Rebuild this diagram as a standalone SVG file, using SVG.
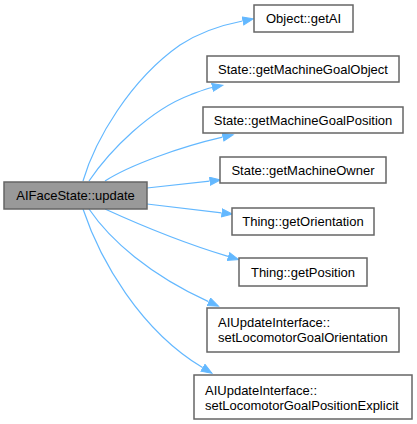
<svg xmlns="http://www.w3.org/2000/svg" width="417" height="424" viewBox="0 0 417 424">
<style>
.box{fill:#ffffff;stroke:#666666;stroke-width:1.5}
.main{fill:#999999;stroke:#666666;stroke-width:1.5}
text{font-family:"Liberation Sans",Arial,sans-serif;font-size:13px;fill:#000000}
.c{text-anchor:middle}
.edge{fill:none;stroke:#63b8ff;stroke-width:1.2;marker-end:url(#arr)}
</style>
<defs>
<marker id="arr" markerUnits="userSpaceOnUse" markerWidth="13" markerHeight="10" refX="0" refY="4.5" orient="auto">
<path d="M0.5,0.5 L11,4.5 L0.5,8.5 z" fill="#63b8ff" stroke="#63b8ff" stroke-width="1"/>
</marker>
</defs>
<rect width="417" height="424" fill="#ffffff"/>
<g id="edges">
<path class="edge" d="M83,181 C95,140 130,80 180,45 C200,32 222,25 242.5,21"/>
<path class="edge" d="M89,181 C110,150 150,110 190,95 C198,92 205,89 212,87.5"/>
<path class="edge" d="M105,181 C130,165 180,147 222.5,137.2"/>
<path class="edge" d="M147,188 L209.5,181.2"/>
<path class="edge" d="M147,204 L221.5,212.8"/>
<path class="edge" d="M105,209 C140,225 190,245 228,256.4"/>
<path class="edge" d="M89,209 C110,240 150,275 208.5,301.6"/>
<path class="edge" d="M83,209 C100,260 140,330 202.5,367.5"/>
</g>
<g id="node-main">
<rect class="main" x="4" y="182" width="143" height="27"/>
<text class="c" x="75.5" y="200">AIFaceState::update</text>
</g>
<g id="node-getAI">
<rect class="box" x="254" y="5" width="99" height="27"/>
<text class="c" x="303.5" y="23">Object::getAI</text>
</g>
<g id="node-getMachineGoalObject">
<rect class="box" x="207" y="56" width="192" height="26"/>
<text class="c" x="303" y="73.5">State::getMachineGoalObject</text>
</g>
<g id="node-getMachineGoalPosition">
<rect class="box" x="203" y="107" width="200" height="26"/>
<text class="c" x="303" y="124.5">State::getMachineGoalPosition</text>
</g>
<g id="node-getMachineOwner">
<rect class="box" x="220" y="157" width="166" height="26"/>
<text class="c" x="303" y="174.5">State::getMachineOwner</text>
</g>
<g id="node-getOrientation">
<rect class="box" x="232" y="208" width="142" height="27"/>
<text class="c" x="303" y="226">Thing::getOrientation</text>
</g>
<g id="node-getPosition">
<rect class="box" x="239" y="258" width="128" height="28"/>
<text class="c" x="303" y="276.5">Thing::getPosition</text>
</g>
<g id="node-setLocomotorGoalOrientation">
<rect class="box" x="207" y="308" width="192" height="44"/>
<text x="218" y="327">AIUpdateInterface::</text>
<text x="218" y="342">setLocomotorGoalOrientation</text>
</g>
<g id="node-setLocomotorGoalPositionExplicit">
<rect class="box" x="194" y="375" width="218" height="44"/>
<text x="205" y="394.5">AIUpdateInterface::</text>
<text x="205" y="409.5">setLocomotorGoalPositionExplicit</text>
</g>
</svg>
